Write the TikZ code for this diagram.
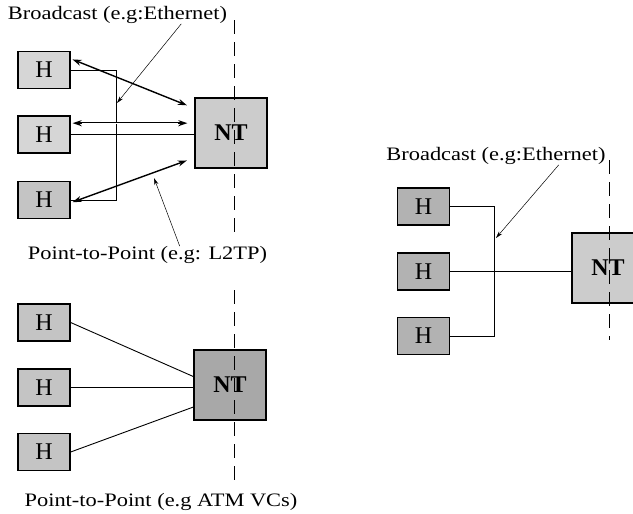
\documentclass[tikz,border=0pt]{standalone}
\usepackage{fontspec}
\setmainfont{Liberation Serif}
\definecolor{hostlight}{RGB}{214,214,214}
\definecolor{hostmid}{RGB}{196,196,196}
\definecolor{hostdark}{RGB}{178,178,178}
\definecolor{ntlight}{RGB}{204,204,204}
\definecolor{ntdark}{RGB}{168,168,168}
\usepackage{tikz}
\usetikzlibrary{arrows.meta}

\begin{document}
\begin{tikzpicture}[x=1pt,y=-1pt,
  host/.style={draw,line width=1.3pt,minimum width=52pt,minimum height=37pt,inner sep=0pt,
    font=\fontsize{24}{24}\selectfont},
  ntbox/.style={draw,line width=1.3pt,minimum width=72pt,minimum height=70pt,inner sep=0pt,
    font=\fontsize{24}{24}\selectfont\bfseries},
  caption/.style={inner sep=0pt,font=\fontsize{19}{19}\selectfont},
  link/.style={line width=0.9pt},
  duplex/.style={line width=1.4pt,{Stealth[length=9pt,width=6pt]}-{Stealth[length=9pt,width=6pt]}},
  pointer/.style={line width=0.5pt,-{Stealth[length=7pt,width=4pt]}},
  divider/.style={line width=0.9pt,dash pattern=on 14pt off 8pt}]
\clip (0,0) rectangle (633,514);
\fill[white] (0,0) rectangle (633,514);

% broadcast and point-to-point, top left
\node[caption] (lbla) at (117.5,15) {\scalebox{1.18}[1]{Broadcast (e.g:Ethernet)}};
\node[host,fill=hostlight] (ha1) at (44,70) {H};
\node[host,fill=hostlight] (ha2) at (44,134.5) {H};
\node[host,fill=hostmid] (ha3) at (44,200) {H};
\node[ntbox,fill=ntlight] (nta) at (231,133) {NT};
\coordinate (busa) at (116,70);
\draw[link] (ha1.east) -- (busa) |- (ha3.east);
\draw[link] (ha2.east) -- (ha2.east -| nta.west);
\draw[duplex,shorten <=2pt,shorten >=8pt] (ha1.23) -- (nta.146);
\draw[duplex,shorten <=2pt,shorten >=8pt] (ha3.-6) -- (nta.214);
\draw[duplex,line width=2.6pt,shorten <=2pt,shorten >=7pt] (ha2.23) -- (ha2.23 -| nta.west);
\draw[white,line width=0.9pt,shorten <=11pt,shorten >=16pt] (ha2.23) -- (ha2.23 -| nta.west);
\node[caption] (lblb) at (147.5,255) {\scalebox{1.18}[1]{Point-to-Point (e.g: L2TP)}};
\coordinate (tipa) at (117,103);
\coordinate (tipb) at (154,178);
\draw[pointer] ([xshift=-46pt]lbla.south east) -- (tipa);
\draw[pointer] ([xshift=152pt]lblb.north west) -- (tipb);
\draw[divider] (234,20) -- (234,233);

% point-to-point, bottom left
\node[host,fill=hostmid] (hb1) at (44,322.5) {H};
\node[host,fill=hostmid] (hb2) at (44,387.5) {H};
\node[host,fill=hostmid] (hb3) at (44,452) {H};
\node[ntbox,fill=ntdark] (ntb) at (230,385) {NT};
\draw[link] (hb1.east) -- (ntb.167);
\draw[link] (hb2.east) -- (hb2.east -| ntb.west);
\draw[link] (hb3.east) -- (ntb.211);
\node[caption] (lblc) at (161,502) {\scalebox{1.18}[1]{Point-to-Point (e.g ATM VCs)}};
\draw[divider] (234,290) -- (234,487);

% broadcast, right
\node[caption] (lbld) at (496,156) {\scalebox{1.18}[1]{Broadcast (e.g:Ethernet)}};
\node[host,fill=hostdark] (hc1) at (423.5,206.5) {H};
\node[host,fill=hostdark] (hc2) at (423.5,271.5) {H};
\node[host,fill=hostdark] (hc3) at (423.5,336) {H};
\node[ntbox,fill=ntlight] (ntc) at (608,268) {NT};
\coordinate (busc) at (494,206.5);
\draw[link] (hc1.east) -- (busc) |- (hc3.east);
\draw[link] (hc2.east) -- (hc2.east -| ntc.west);
\coordinate (tipc) at (496,238);
\draw[pointer] ([xshift=-47pt]lbld.south east) -- (tipc);
\draw[divider] (609,160) -- (609,340);
\end{tikzpicture}
\end{document}
